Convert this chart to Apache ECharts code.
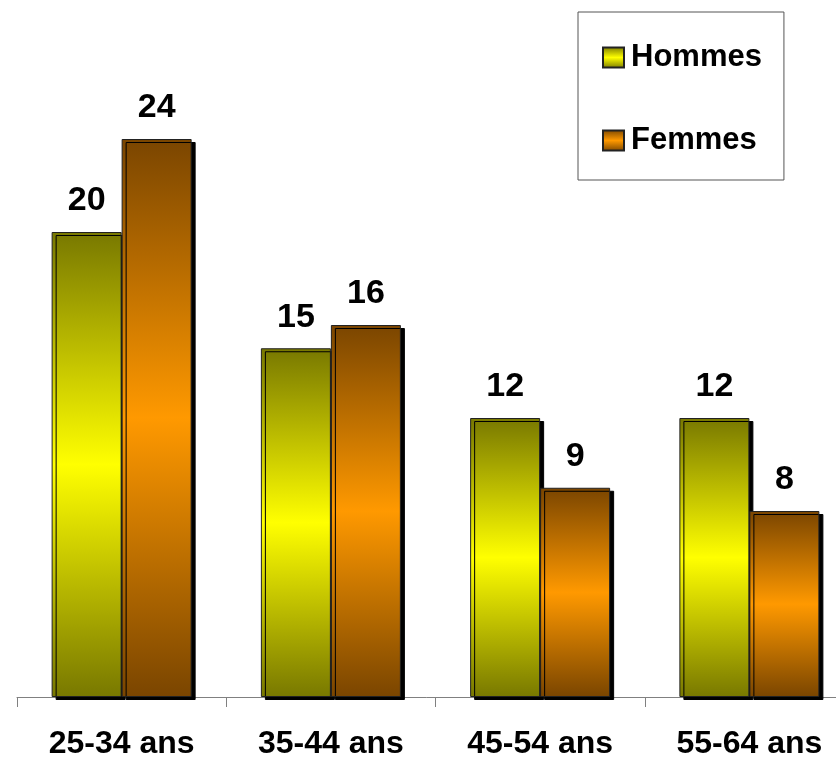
<!DOCTYPE html>
<html>
<head>
<meta charset="utf-8">
<script src="https://cdn.jsdelivr.net/npm/echarts@6/dist/echarts.min.js"></script>
<style>
  html, body { margin: 0; padding: 0; background: #fff; }
  #chart { width: 836px; height: 759px; }
</style>
</head>
<body>
<div id="chart"></div>
<script>
// Age groups and survey values per sex
const categories = ['25-34 ans', '35-44 ans', '45-54 ans', '55-64 ans'];
const hommes = [20, 15, 12, 12];
const femmes = [24, 16, 9, 8];
const seriesNames = ['Hommes', 'Femmes'];

const FONT = '"Liberation Sans", Arial, sans-serif';

// Vertical "cylinder" shading: dark at both ends, bright in the middle
function shade(dark, bright) {
  return new echarts.graphic.LinearGradient(0, 0, 0, 1, [
    { offset: 0, color: dark },
    { offset: 0.5, color: bright },
    { offset: 1, color: dark }
  ]);
}

function barSeries(name, data, dark, bright) {
  return {
    name: name,
    type: 'bar',
    data: data,
    barWidth: 70,
    barGap: '0%',
    itemStyle: {
      color: shade(dark, bright),
      borderColor: '#222',
      borderWidth: 1,
      shadowColor: '#000',
      shadowOffsetX: 4,
      shadowOffsetY: 3,
      shadowBlur: 0
    },
    label: {
      show: true,
      position: 'top',
      distance: 14,
      fontFamily: FONT,
      fontWeight: 'bold',
      fontSize: 34,
      color: '#000'
    }
  };
}

const chart = echarts.init(document.getElementById('chart'));
chart.setOption({
  animation: false,
  backgroundColor: '#fff',
  grid: {
    left: 17, width: 837, top: 46, bottom: 62,
    containLabel: false,
    outerBoundsMode: 'none'
  },
  legend: {
    orient: 'vertical',
    left: 578,
    top: 12,
    data: seriesNames,
    icon: 'rect',
    itemWidth: 21,
    itemHeight: 20,
    itemGap: 52,
    padding: [30, 22, 24, 24],
    borderColor: '#555',
    borderWidth: 1,
    backgroundColor: '#fff',
    textStyle: {
      fontFamily: FONT,
      fontWeight: 'bold',
      fontSize: 31,
      lineHeight: 30,
      color: '#000',
      padding: [0, 0, 0, 2]
    }
  },
  xAxis: {
    type: 'category',
    data: categories,
    axisLine: { show: true, lineStyle: { color: '#808080', width: 1 } },
    axisTick: { show: true, length: 10, inside: false, lineStyle: { color: '#808080' } },
    axisLabel: {
      margin: 31,
      fontFamily: FONT,
      fontWeight: 'bold',
      fontSize: 32,
      color: '#000'
    }
  },
  yAxis: {
    type: 'value',
    min: 0,
    max: 28,
    show: false,
    splitLine: { show: false }
  },
  series: [
    barSeries(seriesNames[0], hommes, '#787800', '#ffff00'),
    barSeries(seriesNames[1], femmes, '#7a4500', '#ff9900')
  ]
});
</script>
</body>
</html>
